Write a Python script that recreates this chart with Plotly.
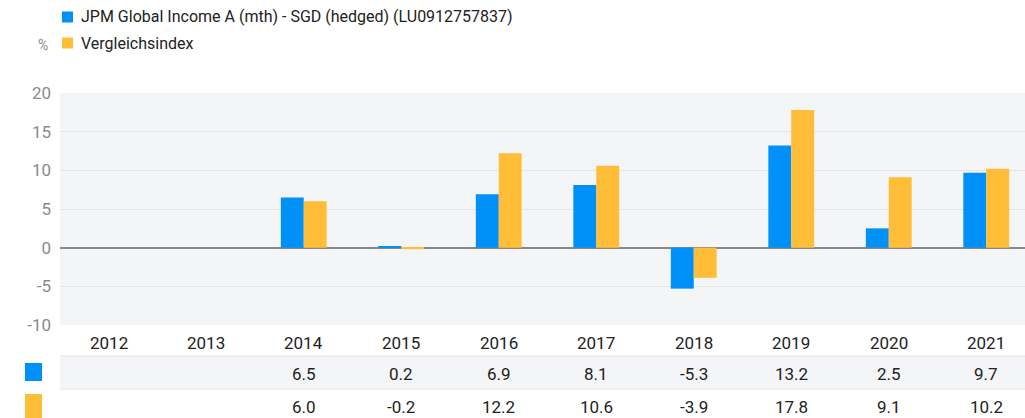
import plotly.graph_objects as go

years = ["2012", "2013", "2014", "2015", "2016", "2017", "2018", "2019", "2020", "2021"]
fund_name = "JPM Global Income A (mth) - SGD (hedged) (LU0912757837)"
bench_name = "Vergleichsindex"
fund_vals = [None, None, 6.5, 0.2, 6.9, 8.1, -5.3, 13.2, 2.5, 9.7]
bench_vals = [None, None, 6.0, -0.2, 12.2, 10.6, -3.9, 17.8, 9.1, 10.2]
y_ticks = [-10, -5, 0, 5, 10, 15, 20]
y_tick_text = ["-10", "-5", "0", "5", "10", "15", "20"]

BLUE = "#0091F8"
YELLOW = "#FFBD38"
FONT = "Roboto"

W, H = 1025, 418
L, T, B_PX = 60, 93, 325  # plot area in pixels
PH = B_PX - T
PW = W - L
CAT_W = 97.5
X0 = -0.5
X1 = X0 + PW / CAT_W


def py(px):
    return (B_PX - px) / PH


def px_x(px):
    return (px - L) / PW


def cat_x(i):
    return (i - X0) / (X1 - X0)


fig = go.Figure()
fig.add_trace(go.Bar(x=years, y=fund_vals, name=fund_name, marker_color=BLUE,
                     marker_line_width=0, showlegend=False))
fig.add_trace(go.Bar(x=years, y=bench_vals, name=bench_name, marker_color=YELLOW,
                     marker_line_width=0, showlegend=False))

shapes = []
annotations = []

# table row background + separators
shapes.append(dict(type="rect", xref="paper", yref="paper", x0=0, x1=1,
                   y0=py(389), y1=py(356), fillcolor="#F4F5F7", line_width=0, layer="below"))
for ypx in (356, 389):
    shapes.append(dict(type="line", xref="paper", yref="paper", x0=0, x1=1,
                       y0=py(ypx), y1=py(ypx), line=dict(color="#E3E4E6", width=1)))

# table squares
shapes.append(dict(type="rect", xref="paper", yref="paper", x0=px_x(25), x1=px_x(42),
                   y0=py(381), y1=py(363), fillcolor=BLUE, line_width=0))
shapes.append(dict(type="rect", xref="paper", yref="paper", x0=px_x(25), x1=px_x(42),
                   y0=py(418), y1=py(394), fillcolor=YELLOW, line_width=0))

# table text
tfont = dict(family=FONT, size=17, color="#222222")
for i, yr in enumerate(years):
    annotations.append(dict(x=cat_x(i), y=py(343), xref="paper", yref="paper", text=yr,
                            showarrow=False, font=tfont, yanchor="middle", xanchor="center"))
    if fund_vals[i] is not None:
        annotations.append(dict(x=cat_x(i), y=py(374), xref="paper", yref="paper",
                                text=f"{fund_vals[i]:.1f}", showarrow=False, font=tfont,
                                yanchor="middle", xanchor="center"))
    if bench_vals[i] is not None:
        annotations.append(dict(x=cat_x(i), y=py(407), xref="paper", yref="paper",
                                text=f"{bench_vals[i]:.1f}", showarrow=False, font=tfont,
                                yanchor="middle", xanchor="center"))

# legend
for name, color, cy in ((fund_name, BLUE, 17), (bench_name, YELLOW, 43)):
    shapes.append(dict(type="rect", xref="paper", yref="paper", x0=px_x(62), x1=px_x(73),
                       y0=py(cy + 5.5), y1=py(cy - 5.5), fillcolor=color, line_width=0))
    annotations.append(dict(x=px_x(79), y=py(cy), xref="paper", yref="paper", text=name,
                            showarrow=False, xanchor="left", yanchor="middle",
                            font=dict(family=FONT, size=16, color="#222222")))
annotations.append(dict(x=px_x(36), y=py(45), xref="paper", yref="paper", text="%",
                        showarrow=False, xanchor="left", yanchor="middle",
                        font=dict(family=FONT, size=14, color="#8A8A8A")))

fig.update_layout(
    width=W, height=H,
    margin=dict(l=L, r=0, t=T, b=H - B_PX, pad=0),
    paper_bgcolor="white", plot_bgcolor="#F4F5F7",
    barmode="group", bargap=0.53, bargroupgap=0,
    shapes=shapes, annotations=annotations,
    font=dict(family=FONT),
)
fig.update_xaxes(type="category", range=[X0, X1], showticklabels=False, showgrid=False,
                 zeroline=False, showline=False, fixedrange=True)
fig.update_yaxes(range=[-10, 20], tickvals=y_ticks, ticktext=y_tick_text, showgrid=True,
                 gridcolor="#E3E4E6", gridwidth=1, zeroline=True, zerolinecolor="#888888",
                 zerolinewidth=2, tickfont=dict(family=FONT, size=17, color="#8A8A8A"),
                 ticklabelstandoff=8, showline=False, fixedrange=True)

fig.write_html("out.html")
